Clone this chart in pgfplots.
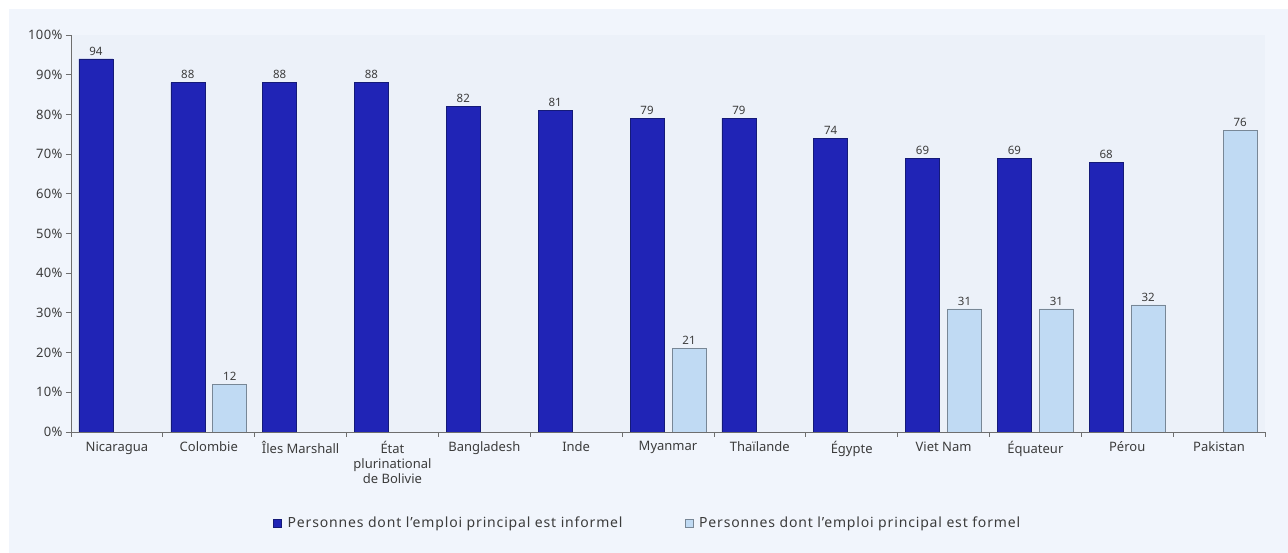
\documentclass[border=0pt]{standalone}
\usepackage{fontspec}
\setmainfont{Noto Sans}
\usepackage{pgfplots}
\pgfplotsset{compat=1.18}
\usetikzlibrary{backgrounds}
\definecolor{darkbar}{RGB}{32,36,182}
\definecolor{darkedge}{RGB}{20,26,120}
\definecolor{lightbar}{RGB}{192,218,243}
\definecolor{lightedge}{RGB}{120,135,150}
\definecolor{panel}{RGB}{241,245,252}
\definecolor{plotbg}{RGB}{236,241,249}
\definecolor{axisgray}{RGB}{110,110,110}
\definecolor{txt}{RGB}{60,60,60}
\begin{document}
\begin{tikzpicture}[x=1pt,y=1pt]
\useasboundingbox (-71,-121) rectangle (1217,432);
\begin{axis}[
  at={(0,0)}, anchor=south west,
  scale only axis, width=1194pt, height=397pt,
  ymin=0, ymax=100, xmin=-0.5, xmax=12.5,
  ybar=8pt, bar width=34pt,
  axis background/.style={fill=plotbg},
  axis x line*=bottom, axis y line*=left,
  axis line style={draw=axisgray, line width=0.8pt},
  tick style={draw=axisgray, line width=0.8pt},
  tick align=outside, major tick length=5pt, minor tick length=5pt,
  ytick={0,10,...,100},
  yticklabel={\pgfmathprintnumber{\tick}\%},
  /pgf/number format/assume math mode=true,
  xtick={0,...,12},
  major x tick style={draw=none},
  minor xtick={-0.5,0.5,...,12.5},
  xticklabels={Nicaragua, Colombie, Îles Marshall, {État\\plurinational\\de Bolivie}, Bangladesh, Inde, Myanmar, Thaïlande, Égypte, Viet Nam, Équateur, Pérou, Pakistan},
  x tick label style={align=center, font=\fontsize{13}{15}\selectfont, text=txt, yshift=-1pt},
  y tick label style={font=\fontsize{13}{15}\selectfont\addfontfeatures{LetterSpace=3}, text=txt},
  nodes near coords,
  nodes near coords style={font=\fontsize{11.5}{13}\selectfont, text=txt, /pgf/number format/precision=0},
  legend columns=2,
  legend style={at={(0.483,-0.229)}, anchor=center, draw=none, fill=none,
    font=\fontsize{14}{16}\selectfont\addfontfeatures{LetterSpace=6}, text=txt,
    /tikz/every odd column/.append style={column sep=4pt},
    /tikz/every even column/.append style={column sep=60pt}},
  legend image code/.code={\draw[#1] (0pt,-4pt) rectangle (8pt,4pt);},
]
\addplot[fill=darkbar, draw=darkedge, line width=0.4pt] coordinates {
 (0,94) (1,88) (2,88) (3,88) (4,82) (5,81) (6,79) (7,79) (8,74) (9,69) (10,69) (11,68)};
\addlegendentry{Personnes dont l'emploi principal est informel}
\addplot[fill=lightbar, draw=lightedge, line width=0.6pt] coordinates {
 (1,12) (6,21) (9,31) (10,31) (11,32) (12,76)};
\addlegendentry{Personnes dont l'emploi principal est formel}
\end{axis}
\begin{scope}[on background layer]
\fill[white] (-71,-121) rectangle (1217,432);
\fill[panel] (-62,-121) rectangle (1217,423);
\end{scope}
\end{tikzpicture}
\end{document}
